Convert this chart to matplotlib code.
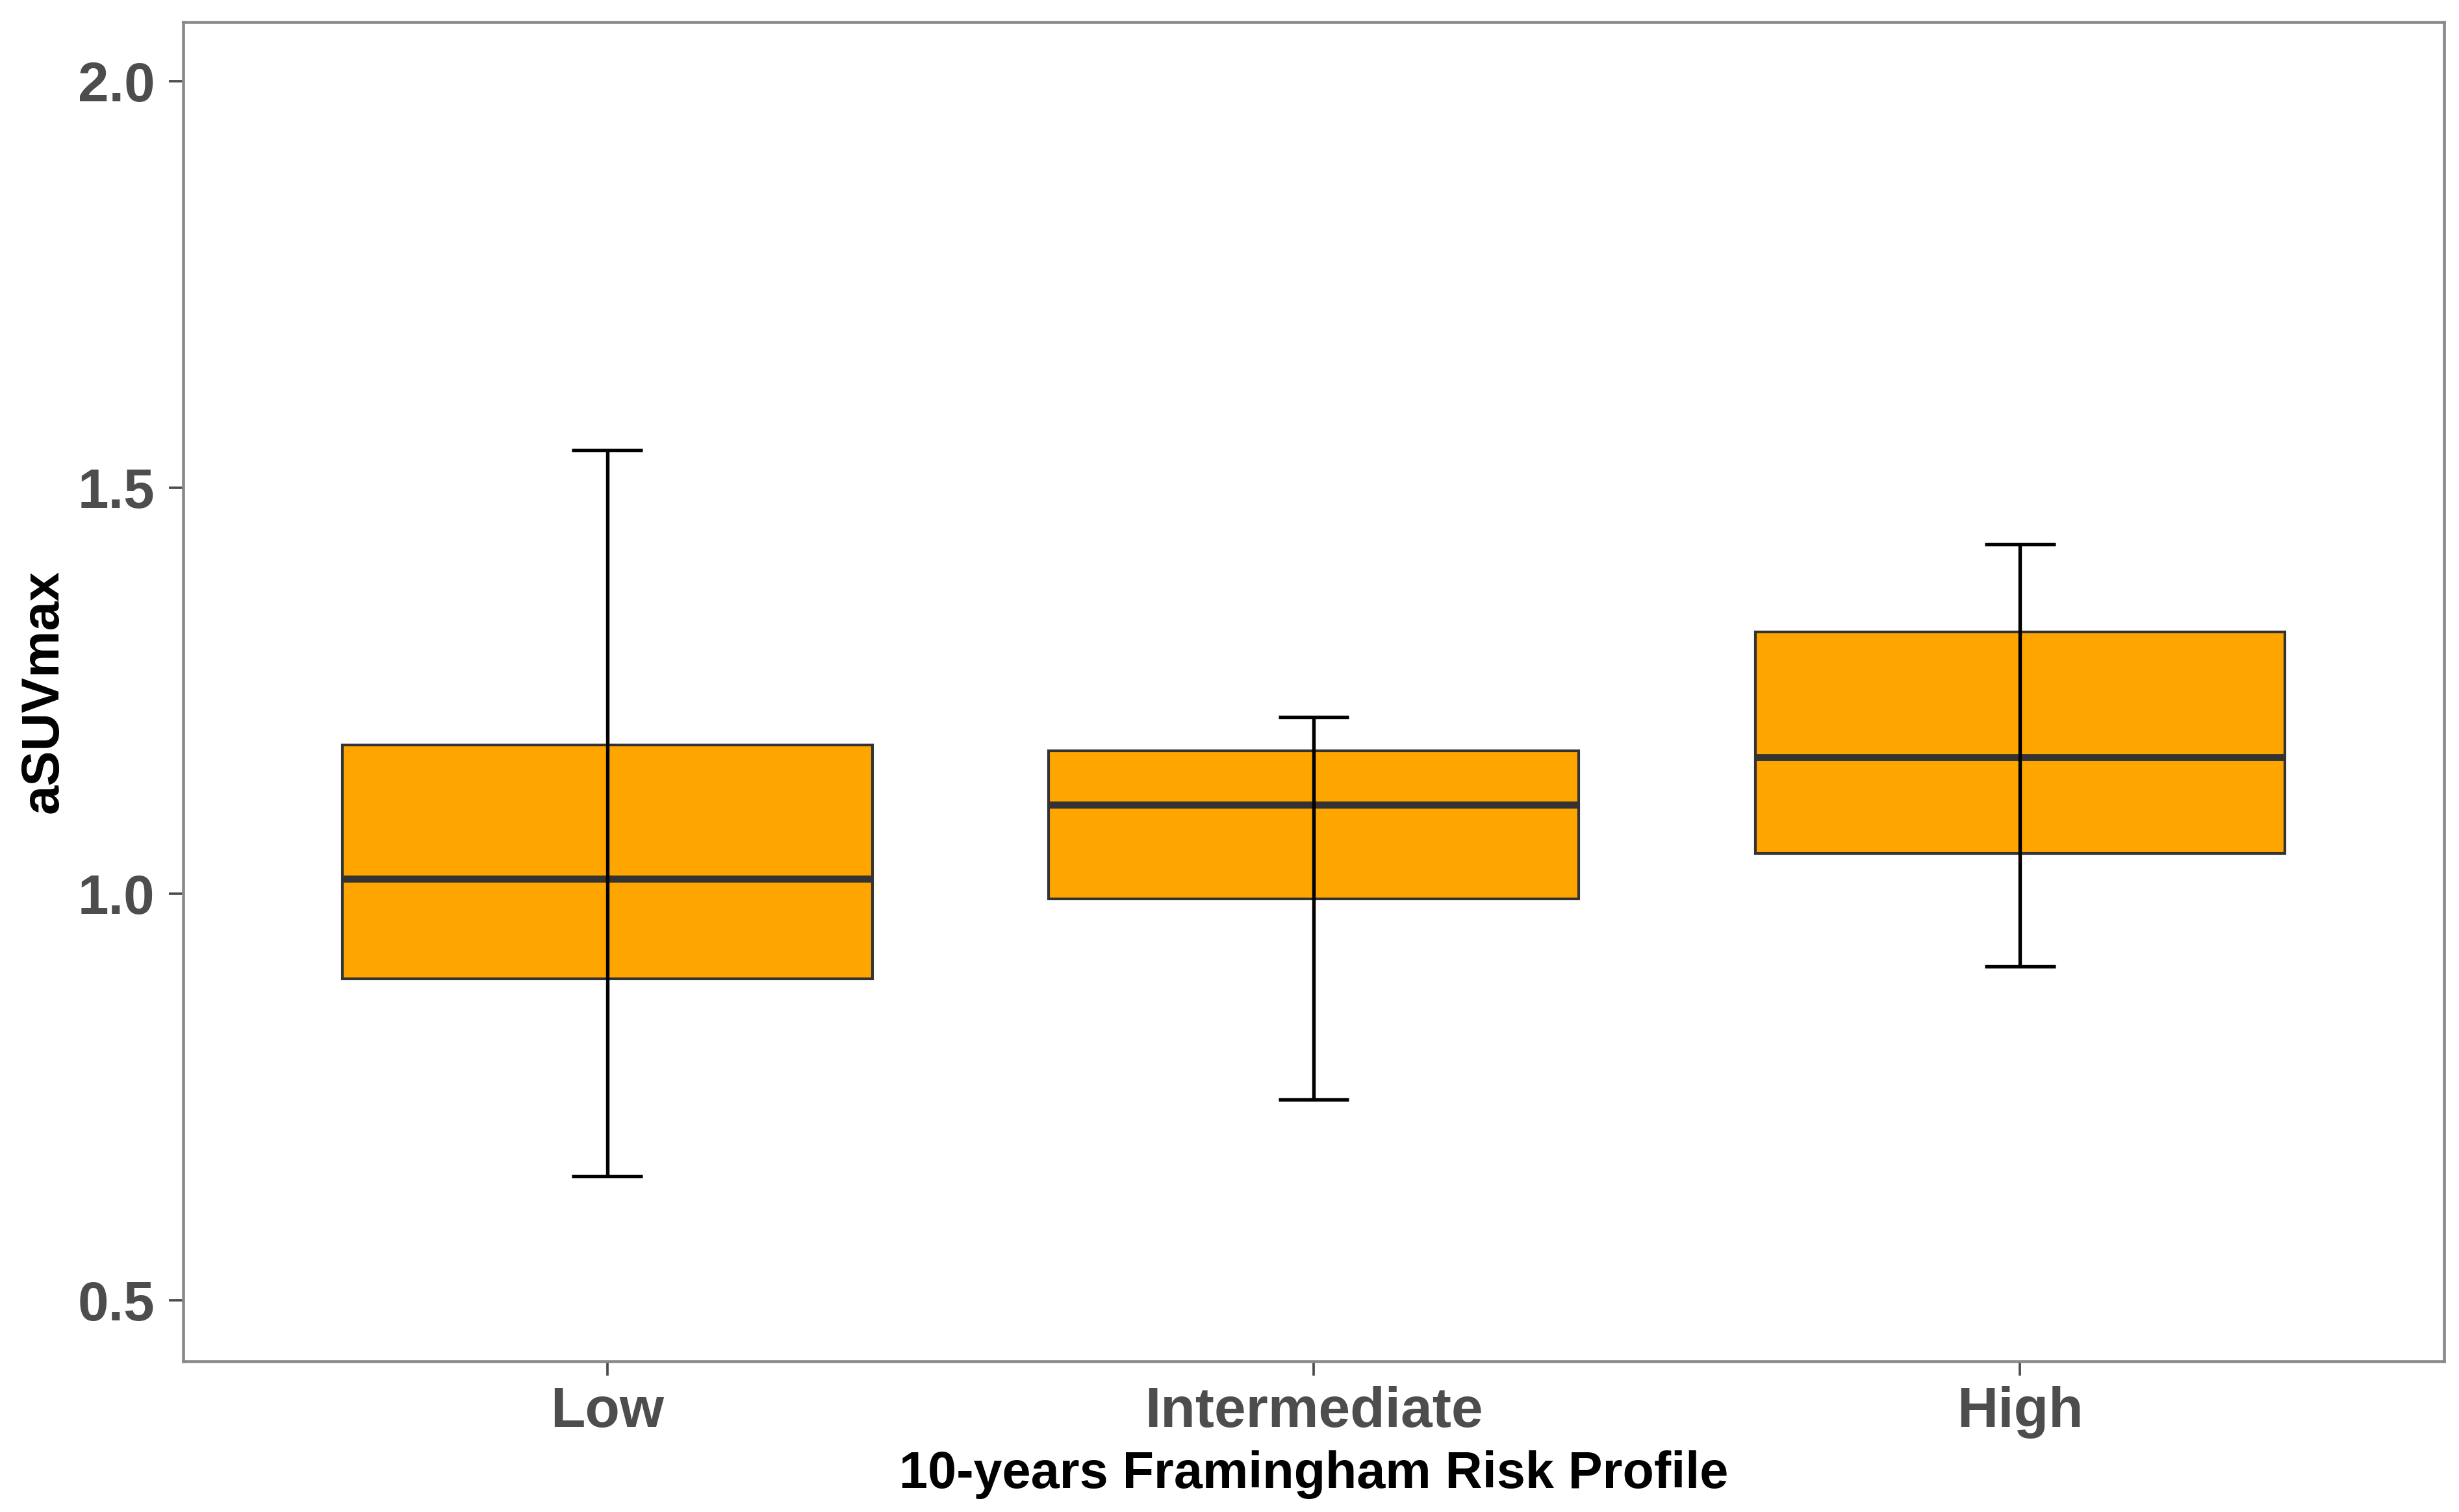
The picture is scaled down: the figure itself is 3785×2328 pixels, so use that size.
import matplotlib.pyplot as plt

# values
groups = ['Low', 'Intermediate', 'High']
whisk_lo = [0.653, 0.747, 0.911]
q1 = [0.896, 0.994, 1.050]
medians = [1.019, 1.110, 1.168]
q3 = [1.183, 1.176, 1.322]
whisk_hi = [1.546, 1.218, 1.430]

plt.rcParams['font.family'] = ['Liberation Sans', 'DejaVu Sans']

fig = plt.figure(figsize=(12.62, 7.76), dpi=300)
ax = fig.add_axes([0.0746, 0.0996, 0.919, 0.886])

pos = [1, 2, 3]
stats = []
for i in range(len(groups)):
    stats.append({'med': medians[i], 'q1': q1[i], 'q3': q3[i],
                  'whislo': q1[i], 'whishi': q3[i], 'label': groups[i]})

ax.bxp(stats, positions=pos, widths=0.75, patch_artist=True,
       showfliers=False, showcaps=False,
       boxprops=dict(facecolor='#FFA500', edgecolor='#333333', linewidth=1.0),
       medianprops=dict(color='#333333', linewidth=2.6, solid_capstyle='butt'),
       whiskerprops=dict(linewidth=0), zorder=2)

# error-bar style whiskers drawn through the box
ax.vlines(pos, whisk_lo, whisk_hi, color='black', linewidth=1.3, zorder=3)
ax.hlines(whisk_lo, [p - 0.05 for p in pos], [p + 0.05 for p in pos],
          color='black', linewidth=1.3, zorder=3)
ax.hlines(whisk_hi, [p - 0.05 for p in pos], [p + 0.05 for p in pos],
          color='black', linewidth=1.3, zorder=3)

ax.set_xlim(0.4, 3.6)
ax.set_ylim(0.425, 2.073)
ax.set_xticks(pos)
ax.set_xticklabels(groups)
ax.set_yticks([0.5, 1.0, 1.5, 2.0])
ax.set_yticklabels(['0.5', '1.0', '1.5', '2.0'])

for s in ax.spines.values():
    s.set_color('#8A8A8A')
    s.set_linewidth(1.1)

ax.tick_params(axis='both', colors='#4D4D4D', length=5.2, width=0.9)
ax.tick_params(axis='x', labelsize=21, pad=4)
ax.tick_params(axis='y', labelsize=20.5, pad=5.3)
for lab in ax.get_xticklabels() + ax.get_yticklabels():
    lab.set_fontweight('bold')
    lab.set_color('#4D4D4D')

ax.set_xlabel('10-years Framingham Risk Profile', fontsize=19,
              fontweight='bold', va='center')
ax.set_ylabel('aSUVmax', fontsize=19.5, fontweight='bold', va='center')
ax.xaxis.set_label_coords(0.5, -0.0843)
ax.yaxis.set_label_coords(-0.0618, 0.5)

fig.savefig('out.png', dpi=300)
